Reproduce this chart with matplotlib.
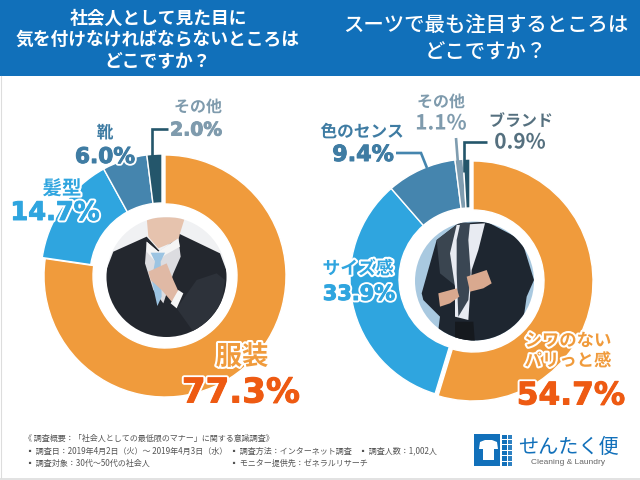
import matplotlib
matplotlib.use('Agg')
import matplotlib.pyplot as plt
import matplotlib.patheffects as pe
from matplotlib.patches import Circle, Polygon, Rectangle

plt.rcParams['font.family'] = ['Noto Sans CJK JP', 'DejaVu Sans']

left_labels = ['服装', '髪型', '靴', 'その他']
left_values = [77.3, 14.7, 6.0, 2.0]
right_labels = ['シワのない\nパリっと感', 'サイズ感', '色のセンス', 'その他', 'ブランド']
right_values = [54.7, 33.9, 9.4, 1.1, 0.9]

ORANGE = '#F09B3C'
SKY = '#2FA5DF'
STEEL = '#4585AE'
SLATE = '#7F9DB0'
DARK = '#24566B'
left_colors = [ORANGE, SKY, STEEL, DARK]
right_colors = [ORANGE, SKY, STEEL, SLATE, DARK]

BLUE = '#1170BA'
RED = '#EE5A12'
GREY = '#7F9BAD'
BRAND_GREY = '#55707F'


def Y(y):
    return 480 - y


def label(ax, x, y, s, size, color, width=3, linespacing=1.05):
    ax.text(x, Y(y), s, fontsize=size, color=color, ha='center', va='center',
            fontweight='bold', linespacing=linespacing,
            path_effects=[pe.withStroke(linewidth=width, foreground='white')],
            zorder=10)


def pct(ax, x, y, value, size, color, width=3.5):
    # wide heavy digits in the original, thickened with a stroke of their own colour
    ax.text(x, Y(y), f'{value}%', fontsize=size, color=color, ha='center', va='center',
            fontweight='bold', family=['DejaVu Sans'],
            path_effects=[pe.Stroke(linewidth=width, foreground='white'),
                          pe.Stroke(linewidth=0.7, foreground=color),
                          pe.Normal()],
            zorder=10)


def donut(ax, cx, cy, radius, hole, values, colors, shift):
    wedges, _ = ax.pie(values, colors=colors, center=(cx, Y(cy)), radius=radius, startangle=90,
                       counterclock=False,
                       wedgeprops=dict(width=radius - hole, edgecolor='white', linewidth=1.0))
    # orange slice sits a little apart from the others
    for w in wedges[1:]:
        w.set_center((cx + shift[0], Y(cy) - shift[1]))


def leader(ax, xs, ys, color):
    ax.plot(xs, [Y(v) for v in ys], color=color, lw=1.9, solid_capstyle='butt',
            solid_joinstyle='miter', zorder=9)


def photo(ax, cx, cy, r, x0, y0, bg, shapes):
    clip = Circle((cx, Y(cy)), r, transform=ax.transData)
    base = Circle((cx, Y(cy)), r, facecolor=bg, edgecolor='none', zorder=5)
    ax.add_patch(base)
    for pts, color in shapes:
        xy = [(x0 + p[0] / 3, Y(y0 + p[1] / 3)) for p in pts]
        patch = Polygon(xy, facecolor=color, edgecolor='none', zorder=6)
        ax.add_patch(patch)
        patch.set_clip_path(clip)


man_left = [
    ([(180, 180), (640, 180), (640, 232), (180, 232)], 'white'),
    ([(220, 600), (225, 400), (250, 335), (350, 290), (395, 340), (445, 280), (570, 340), (600, 420), (600, 600)], '#23272E'),
    ([(440, 505), (500, 420), (560, 400), (585, 420), (570, 520), (490, 575)], '#2D323A'),
    ([(350, 232), (465, 232), (450, 280), (445, 300), (385, 325), (355, 290)], '#E6C3AE'),
    ([(350, 305), (385, 335), (445, 295), (452, 350), (430, 400), (400, 490), (370, 450), (345, 370)], '#DCDCE0'),
    ([(350, 305), (385, 335), (445, 295), (450, 320), (405, 345), (380, 370), (350, 335)], '#F5F5F5'),
    ([(362, 338), (405, 338), (392, 365), (395, 470), (382, 498), (365, 420), (375, 365)], '#9CC4E2'),
    ([(355, 395), (410, 370), (430, 420), (448, 460), (425, 485), (395, 450), (362, 420)], '#E0B9A5'),
    ([(445, 450), (460, 460), (440, 505), (422, 490)], '#F6F6F6'),
]
man_right = [
    ([(245, 460), (290, 300), (355, 250), (440, 245), (545, 300), (582, 420), (560, 470), (540, 610), (290, 610), (300, 530), (250, 480)], '#1E2630'),
    ([(290, 300), (355, 250), (335, 330), (350, 440), (300, 400)], '#3A4550'),
    ([(350, 255), (435, 250), (415, 330), (395, 390), (385, 540), (345, 530), (345, 440), (330, 340)], '#E8EBF2'),
    ([(362, 245), (390, 250), (385, 300), (392, 400), (385, 480), (355, 530), (350, 400), (350, 300)], '#3A4653'),
    ([(345, 545), (400, 545), (405, 610), (345, 610)], '#15191E'),
    ([(380, 410), (440, 390), (455, 430), (430, 445), (390, 455)], '#D9A98F'),
    ([(295, 460), (350, 445), (358, 470), (330, 490), (300, 500)], '#D9A98F'),
]

fig = plt.figure(figsize=(6.4, 4.8), dpi=100)
ax = fig.add_axes([0, 0, 1, 1])

ax.add_patch(Rectangle((0, Y(76)), 640, 76, facecolor=BLUE, edgecolor='none', zorder=1))
ax.text(158, Y(40), '社会人として見た目に\n気を付けなければならないところは\nどこですか？', color='white',
        fontsize=12.8, fontweight='bold', ha='center', va='center', linespacing=1.2, zorder=2)
ax.text(486, Y(39), 'スーツで最も注目するところは\nどこですか？', color='white',
        fontsize=14.7, fontweight='medium', ha='center', va='center', linespacing=1.35, zorder=2)

donut(ax, 165, 276, 121, 72, left_values, left_colors, (-3, -1))
donut(ax, 473, 281, 120, 71, right_values, right_colors, (-3, -2))
photo(ax, 166.5, 277, 60, 30, 140, '#F0F1F3', man_left)
photo(ax, 474.5, 281, 59.5, 340, 140, '#A9C9E0', man_right)

# left chart labels
label(ax, 242, 357, left_labels[0], 19, ORANGE)
pct(ax, 241, 393, left_values[0], 24.5, RED)
label(ax, 62, 189, left_labels[1], 14, SKY)
pct(ax, 55, 213, left_values[1], 18.5, SKY)
label(ax, 105, 133, left_labels[2], 12, '#3F7CA3')
pct(ax, 105, 157, left_values[2], 15.6, '#3F7CA3')
label(ax, 198, 107, left_labels[3], 11.5, GREY)
pct(ax, 196, 130, left_values[3], 13.5, GREY)
leader(ax, [168, 152, 152], [129, 129, 160], DARK)

# right chart labels
label(ax, 568, 351, right_labels[0], 12.5, ORANGE, linespacing=1.15)
pct(ax, 571, 396, right_values[0], 22.5, RED)
label(ax, 358, 269, right_labels[1], 12.8, SKY)
pct(ax, 359, 294, right_values[1], 15, SKY)
label(ax, 362, 132, right_labels[2], 12, '#3F7CA3')
pct(ax, 363, 155, right_values[2], 16, '#3F7CA3')
label(ax, 441, 102, right_labels[3], 11.5, GREY)
label(ax, 441, 123, f'{right_values[3]}%', 15, GREY)
label(ax, 521, 121, right_labels[4], 11.5, BRAND_GREY)
label(ax, 520, 142, f'{right_values[4]}%', 15, BRAND_GREY)
leader(ax, [396, 421, 427], [153, 153, 168], STEEL)
leader(ax, [456, 458], [138, 164], SLATE)
leader(ax, [487, 464, 464], [142, 142, 172], DARK)

# survey notes
note_color = '#555555'
notes = [
    (24, 438, '《 調査概要：「社会人としての最低限のマナー」に関する意識調査》'),
    (26, 451, '▪ 調査日：2019年4月2日（火）～ 2019年4月3日（水）'),
    (230, 451, '▪ 調査方法：インターネット調査'),
    (359, 451, '▪ 調査人数：1,002人'),
    (26, 463, '▪ 調査対象：30代～50代の社会人'),
    (230, 463, '▪ モニター提供先：ゼネラルリサーチ'),
]
for x, y, s in notes:
    ax.text(x, Y(y), s, fontsize=5.8, color=note_color, ha='left', va='center')

# logo
ax.add_patch(Rectangle((474, Y(466)), 26, 32, facecolor=BLUE, edgecolor='none'))
shirt = [(480, 442), (485, 440), (492, 440), (497, 442), (498, 449), (494, 449), (494, 460), (483, 460), (483, 449), (479, 449)]
ax.add_patch(Polygon([(x, Y(y)) for x, y in shirt], facecolor='white', edgecolor='none', zorder=3))
for col in range(2):
    for row in range(6):
        ax.add_patch(Rectangle((502 + col * 5.5, Y(439 + row * 5.4)), 4.5, 4.4, facecolor=BLUE,
                               edgecolor='none', alpha=1 - 0.12 * col))
ax.text(568.5, Y(447), 'せんたく便', fontsize=14.5, color=BLUE, ha='center', va='center')
ax.text(568.5, Y(462), 'Cleaning & Laundry', fontsize=6, color='#666666', ha='center', va='center',
        family=['Liberation Sans', 'DejaVu Sans'])

# thin frame of the image
ax.plot([0.5, 0.5], [Y(76), Y(478)], color='#DDDDDD', lw=0.8, zorder=2)
ax.plot([0, 640], [Y(478.5), Y(478.5)], color='#DDDDDD', lw=1.2, zorder=2)

ax.set_xlim(0, 640)
ax.set_ylim(0, 480)
ax.set_aspect('auto')
ax.axis('off')

fig.savefig('out.png', dpi=100)
plt.close(fig)
